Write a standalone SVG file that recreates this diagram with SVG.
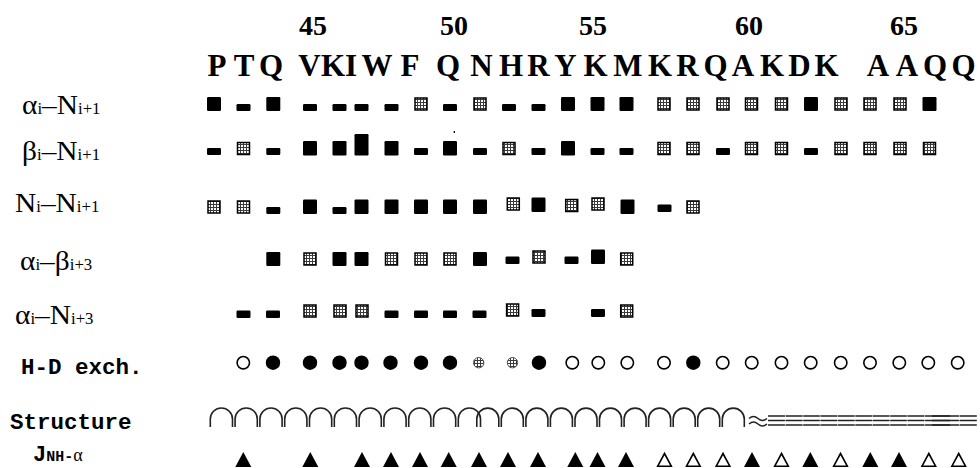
<svg xmlns="http://www.w3.org/2000/svg" width="980" height="468" viewBox="0 0 980 468">
<defs>
<pattern id="h" width="3" height="3" patternUnits="userSpaceOnUse"><rect width="3" height="3" fill="#fff"/><path d="M0 0.5H3M0.5 0V3" stroke="#3a3a3a" stroke-width="1"/></pattern>
<style>
.B{fill:#000}
.S{fill:url(#h);stroke:#000;stroke-width:1.5}
.lab{font-family:"Liberation Serif","Times New Roman",serif;fill:#000}
.mono{font-family:"Liberation Mono","Courier New",monospace;font-weight:bold;fill:#000}
.hd{font-family:"Liberation Serif","Times New Roman",serif;font-weight:bold;fill:#000;text-anchor:middle}
.oc{fill:#fff;stroke:#000;stroke-width:1.6}
.fc{fill:#000}
.sc{fill:url(#h);stroke:#555;stroke-width:1}
.arc{fill:none;stroke:#222;stroke-width:1.6}
.ln{fill:none;stroke:#222;stroke-width:1.5}
.ft{fill:#000}
.ot{fill:#fff;stroke:#000;stroke-width:1.6;stroke-linejoin:miter}
</style>
</defs>
<rect width="980" height="468" fill="#fff"/>

<g id="numbers" class="hd" font-size="28">
<text x="313" y="35">45</text><text x="454" y="35">50</text><text x="593" y="35">55</text><text x="749" y="35">60</text><text x="904" y="35">65</text>
</g>
<g id="sequence" class="hd" font-size="31">
<text x="217" y="76">P</text><text x="244" y="76">T</text><text x="271" y="76">Q</text><text x="309.5" y="76">V</text><text x="333" y="76">K</text><text x="351" y="76">I</text><text x="377" y="76">W</text><text x="410" y="76">F</text><text x="448" y="76">Q</text><text x="481.5" y="76">N</text><text x="511" y="76">H</text><text x="538.5" y="76">R</text><text x="565.5" y="76">Y</text><text x="595.5" y="76">K</text><text x="628" y="76">M</text><text x="660" y="76">K</text><text x="687.5" y="76">R</text><text x="715.5" y="76">Q</text><text x="743" y="76">A</text><text x="772" y="76">K</text><text x="799.5" y="76">D</text><text x="826.5" y="76">K</text><text x="878" y="76">A</text><text x="907" y="76">A</text><text x="935" y="76">Q</text><text x="963.5" y="76">Q</text>
</g>

<g id="labels">
<text class="lab" font-size="28" transform="translate(22,114) scale(1.05,1)">α<tspan font-size="16">i</tspan>–N<tspan font-size="16">i+1</tspan></text>
<text class="lab" font-size="28" transform="translate(22,160) scale(1.05,1)">β<tspan font-size="16">i</tspan>–N<tspan font-size="16">i+1</tspan></text>
<text class="lab" font-size="28" transform="translate(15,212) scale(1.05,1)">N<tspan font-size="16">i</tspan>–N<tspan font-size="16">i+1</tspan></text>
<text class="lab" font-size="28" transform="translate(20,270) scale(1.05,1)">α<tspan font-size="16">i</tspan>–β<tspan font-size="16">i+3</tspan></text>
<text class="lab" font-size="28" transform="translate(15,324) scale(1.05,1)">α<tspan font-size="16">i</tspan>–N<tspan font-size="16">i+3</tspan></text>
<text class="mono" font-size="22.5" x="21" y="374">H-D exch.</text>
<text class="mono" font-size="22.5" x="10" y="429">Structure</text>
<text class="mono" font-size="22" x="33" y="461">J<tspan font-size="15">NH-</tspan><tspan class="lab" font-weight="normal" font-size="18">α</tspan></text>
</g>

<g id="row-alpha-N-i1">
<rect class="B" x="207" y="97" width="14" height="14" rx="1.2"/>
<rect class="B" x="236.5" y="104" width="14" height="7" rx="1.2"/>
<rect class="B" x="266.3" y="97" width="14" height="14" rx="1.2"/>
<rect class="B" x="303" y="104" width="14" height="7" rx="1.2"/>
<rect class="B" x="332.5" y="104" width="14" height="7" rx="1.2"/>
<rect class="B" x="354.5" y="104" width="14" height="7" rx="1.2"/>
<rect class="B" x="384.5" y="104" width="14" height="7" rx="1.2"/>
<rect class="S" x="415" y="98" width="12" height="12"/>
<rect class="B" x="443" y="104" width="14" height="7" rx="1.2"/>
<rect class="S" x="474" y="98" width="12" height="12"/>
<rect class="B" x="502" y="104" width="14" height="7" rx="1.2"/>
<rect class="B" x="531.5" y="104" width="14" height="7" rx="1.2"/>
<rect class="B" x="561" y="97" width="14" height="14" rx="1.2"/>
<rect class="B" x="590.5" y="97" width="14" height="14" rx="1.2"/>
<rect class="B" x="619.5" y="97" width="14" height="14" rx="1.2"/>
<rect class="S" x="658" y="98" width="12" height="12"/>
<rect class="S" x="687" y="98" width="12" height="12"/>
<rect class="S" x="717" y="98" width="12" height="12"/>
<rect class="S" x="745.5" y="98" width="12" height="12"/>
<rect class="S" x="775.5" y="98" width="12" height="12"/>
<rect class="B" x="804" y="97" width="14" height="14" rx="1.2"/>
<rect class="S" x="835" y="98" width="12" height="12"/>
<rect class="S" x="864" y="98" width="12" height="12"/>
<rect class="S" x="894" y="98" width="12" height="12"/>
<rect class="B" x="922.5" y="97" width="14" height="14" rx="1.2"/>
</g>

<g id="row-beta-N-i1">
<rect class="B" x="207" y="148" width="14" height="7" rx="1.2"/>
<rect class="S" x="237.5" y="142.5" width="12" height="12"/>
<rect class="B" x="266.3" y="148" width="14" height="7" rx="1.2"/>
<rect class="B" x="303" y="141" width="14" height="14.5" rx="1.2"/>
<rect class="B" x="332.5" y="141" width="14" height="14.5" rx="1.2"/>
<rect class="B" x="354.5" y="134" width="14" height="21.5" rx="1.2"/>
<rect class="B" x="384.5" y="141" width="14" height="14.5" rx="1.2"/>
<rect class="B" x="414" y="148" width="14" height="7" rx="1.2"/>
<rect class="B" x="443" y="141" width="14" height="14.5" rx="1.2"/>
<rect class="B" x="473" y="148" width="14" height="7" rx="1.2"/>
<rect class="S" x="503" y="142.5" width="12" height="12"/>
<rect class="B" x="531.5" y="148" width="14" height="7" rx="1.2"/>
<rect class="B" x="561" y="141" width="14" height="14.5" rx="1.2"/>
<rect class="B" x="590.5" y="148" width="14" height="7" rx="1.2"/>
<rect class="B" x="619.5" y="148" width="14" height="7" rx="1.2"/>
<rect class="S" x="658" y="142.5" width="12" height="12"/>
<rect class="S" x="687" y="142.5" width="12" height="12"/>
<rect class="B" x="716" y="148" width="14" height="7" rx="1.2"/>
<rect class="S" x="745.5" y="142.5" width="12" height="12"/>
<rect class="S" x="775.5" y="142.5" width="12" height="12"/>
<rect class="B" x="804" y="148" width="14" height="7" rx="1.2"/>
<rect class="S" x="835" y="142.5" width="12" height="12"/>
<rect class="S" x="864" y="142.5" width="12" height="12"/>
<rect class="S" x="894" y="142.5" width="12" height="12"/>
<rect class="S" x="923.5" y="142.5" width="12" height="12"/>
<rect class="B" x="453.7" y="131" width="1.3" height="2"/>
</g>

<g id="row-N-N-i1">
<rect class="S" x="208" y="201" width="12" height="12"/>
<rect class="S" x="237.5" y="201" width="12" height="12"/>
<rect class="B" x="266.3" y="207" width="14" height="7" rx="1.2"/>
<rect class="B" x="303" y="199.5" width="14" height="14.5" rx="1.2"/>
<rect class="B" x="332.5" y="207" width="14" height="7" rx="1.2"/>
<rect class="B" x="354.5" y="199.5" width="14" height="14.5" rx="1.2"/>
<rect class="B" x="384.5" y="199.5" width="14" height="14.5" rx="1.2"/>
<rect class="B" x="414" y="199.5" width="14" height="14.5" rx="1.2"/>
<rect class="B" x="443" y="199.5" width="14" height="14.5" rx="1.2"/>
<rect class="B" x="473" y="199.5" width="14" height="14.5" rx="1.2"/>
<rect class="S" x="507.3" y="198" width="12" height="12"/>
<rect class="B" x="531.5" y="197.5" width="14" height="14.5" rx="1.2"/>
<rect class="S" x="565.7" y="199.5" width="12" height="12"/>
<rect class="S" x="592" y="198" width="12" height="12"/>
<rect class="B" x="620.5" y="199.5" width="14" height="14.5" rx="1.2"/>
<rect class="B" x="657.5" y="204.5" width="14" height="7.5" rx="1.2"/>
<rect class="S" x="687" y="201" width="12" height="12"/>
</g>

<g id="row-alpha-beta-i3">
<rect class="B" x="266.3" y="252" width="14" height="14" rx="1.2"/>
<rect class="S" x="304" y="253" width="12" height="12"/>
<rect class="B" x="332.5" y="252" width="14" height="14" rx="1.2"/>
<rect class="B" x="354.5" y="252" width="14" height="14" rx="1.2"/>
<rect class="S" x="385.5" y="253" width="12" height="12"/>
<rect class="S" x="415" y="253" width="12" height="12"/>
<rect class="S" x="444" y="253" width="12" height="12"/>
<rect class="B" x="473" y="252" width="14" height="14" rx="1.2"/>
<rect class="B" x="505.5" y="256.5" width="14" height="7.5" rx="1.2"/>
<rect class="S" x="533" y="251" width="12" height="12"/>
<rect class="B" x="564.5" y="256.5" width="14" height="7.5" rx="1.2"/>
<rect class="B" x="591" y="249.5" width="14" height="14.5" rx="1.2"/>
<rect class="S" x="620.7" y="253" width="12" height="12"/>
</g>

<g id="row-alpha-N-i3">
<rect class="B" x="236.5" y="310.5" width="14" height="7.5" rx="1.2"/>
<rect class="B" x="266" y="310.5" width="14" height="7.5" rx="1.2"/>
<rect class="S" x="304" y="305" width="12" height="12"/>
<rect class="S" x="334" y="305" width="12" height="12"/>
<rect class="S" x="356" y="305" width="12" height="12"/>
<rect class="B" x="384.5" y="310.5" width="14" height="7.5" rx="1.2"/>
<rect class="B" x="414" y="310.5" width="14" height="7.5" rx="1.2"/>
<rect class="B" x="443" y="310.5" width="14" height="7.5" rx="1.2"/>
<rect class="B" x="472.5" y="310.5" width="14" height="7.5" rx="1.2"/>
<rect class="S" x="506.6" y="304" width="12" height="12"/>
<rect class="B" x="531.5" y="309" width="14" height="8" rx="1.2"/>
<rect class="B" x="591" y="309" width="14" height="8" rx="1.2"/>
<rect class="S" x="620.7" y="305" width="12" height="12"/>
</g>

<g id="row-hd-exchange">
<circle class="oc" cx="243.3" cy="362.7" r="6.2"/>
<circle class="fc" cx="273" cy="362.7" r="7.2"/>
<circle class="fc" cx="310" cy="362.7" r="7.2"/>
<circle class="fc" cx="339.5" cy="362.7" r="7.2"/>
<circle class="fc" cx="361.5" cy="362.7" r="7.2"/>
<circle class="fc" cx="390.5" cy="362.7" r="7.2"/>
<circle class="fc" cx="421" cy="362.7" r="7.2"/>
<circle class="fc" cx="450" cy="362.7" r="7.2"/>
<circle class="sc" cx="478.7" cy="362.7" r="5.2"/>
<circle class="sc" cx="512.5" cy="362.7" r="5.2"/>
<circle class="fc" cx="539" cy="362.7" r="7.2"/>
<circle class="oc" cx="572.3" cy="362.7" r="6.2"/>
<circle class="oc" cx="598.3" cy="362.7" r="6.2"/>
<circle class="oc" cx="627.3" cy="362.7" r="6.2"/>
<circle class="oc" cx="664" cy="362.7" r="6.2"/>
<circle class="fc" cx="693.3" cy="362.7" r="7.2"/>
<circle class="oc" cx="722.7" cy="362.7" r="6.2"/>
<circle class="oc" cx="751.7" cy="362.7" r="6.2"/>
<circle class="oc" cx="781.5" cy="362.7" r="6.2"/>
<circle class="oc" cx="810.7" cy="362.7" r="6.2"/>
<circle class="oc" cx="840.7" cy="362.7" r="6.2"/>
<circle class="oc" cx="870" cy="362.7" r="6.2"/>
<circle class="oc" cx="899.3" cy="362.7" r="6.2"/>
<circle class="oc" cx="928.3" cy="362.7" r="6.2"/>
<circle class="oc" cx="957.7" cy="362.7" r="6.2"/>
</g>

<g id="row-structure">
<path class="arc" d="M210.3 427V419.1A11.1 11.1 0 0 1 232.5 419.1V427"/>
<path class="arc" d="M235.1 427V419.1A11.1 11.1 0 0 1 257.3 419.1V427"/>
<path class="arc" d="M259.9 427V419.1A11.1 11.1 0 0 1 282.1 419.1V427"/>
<path class="arc" d="M284.7 427V419.1A11.1 11.1 0 0 1 306.9 419.1V427"/>
<path class="arc" d="M309.5 427V419.1A11.1 11.1 0 0 1 331.7 419.1V427"/>
<path class="arc" stroke-width="2.4" d="M334.3 427V419.1A11.1 11.1 0 0 1 356.5 419.1V427"/>
<path class="arc" d="M359.1 427V419.1A11.1 11.1 0 0 1 381.3 419.1V427"/>
<path class="arc" d="M383.9 427V419.1A11.1 11.1 0 0 1 406.1 419.1V427"/>
<path class="arc" d="M408.7 427V419.1A11.1 11.1 0 0 1 430.9 419.1V427"/>
<path class="arc" d="M433.5 427V419.1A11.1 11.1 0 0 1 455.7 419.1V427"/>
<path class="arc" d="M458.3 427V419.1A11.1 11.1 0 0 1 480.5 419.1V427"/>
<path class="arc" d="M476.8 427V419.1A11 11 0 0 1 498.8 419.1V427"/>
<path class="arc" d="M501.3 427V419.1A11 11 0 0 1 523.3 419.1V427"/>
<path class="arc" d="M525.9 427V419.1A11 11 0 0 1 547.9 419.1V427"/>
<path class="arc" d="M550.4 427V419.1A11 11 0 0 1 572.4 419.1V427"/>
<path class="arc" d="M575 427V419.1A11 11 0 0 1 597 419.1V427"/>
<path class="arc" d="M599.5 427V419.1A11 11 0 0 1 621.5 419.1V427"/>
<path class="arc" d="M624.1 427V419.1A11 11 0 0 1 646.1 419.1V427"/>
<path class="arc" d="M648.6 427V419.1A11 11 0 0 1 670.6 419.1V427"/>
<path class="arc" d="M673.2 427V419.1A11 11 0 0 1 695.2 419.1V427"/>
<path class="arc" d="M697.7 427V419.1A11 11 0 0 1 719.7 419.1V427"/>
<path class="arc" d="M722.3 427V419.1A11 11 0 0 1 744.3 419.1V427"/>
<path class="ln" stroke-width="1.4" d="M749 418.5q4.5 -4 9 0t9 0M749 424q4.5 -4 9 0t9 0"/>
<path class="ln" d="M768 416H976.8M768 420.5H976.8M768 425H976.8"/>
<path class="ln" stroke-width="2.2" d="M932 416H950M932 420.5H950M932 425H950"/>
<path stroke="#fff" stroke-width="0.6" d="M785.4 414V427M802.8 414V427M820.2 414V427M837.6 414V427M855 414V427M872.4 414V427M889.8 414V427M907.2 414V427M924.6 414V427M959.4 414V427"/>
</g>

<g id="row-J">
<path class="ft" d="M243.3 452L251.3 467H235.3Z"/>
<path class="ft" d="M310.3 452L318.3 467H302.3Z"/>
<path class="ft" d="M362 452L370 467H354Z"/>
<path class="ft" d="M391 452L399 467H383Z"/>
<path class="ft" d="M420 452L428 467H412Z"/>
<path class="ft" d="M448.7 452L456.7 467H440.7Z"/>
<path class="ft" d="M479 452L487 467H471Z"/>
<path class="ft" d="M508 452L516 467H500Z"/>
<path class="ft" d="M538 452L546 467H530Z"/>
<path class="ft" d="M575.3 452L583.3 467H567.3Z"/>
<path class="ft" d="M597.5 452L605.5 467H589.5Z"/>
<path class="ft" d="M626 452L634 467H618Z"/>
<path class="ot" d="M664.5 453.5L671.3 466.2H657.7Z"/>
<path class="ot" d="M693.3 453.5L700.1 466.2H686.5Z"/>
<path class="ot" d="M723 453.5L729.8 466.2H716.2Z"/>
<path class="ft" d="M752 452L760 467H744Z"/>
<path class="ot" d="M781.5 453.5L788.3 466.2H774.7Z"/>
<path class="ft" d="M810.3 452L818.3 467H802.3Z"/>
<path class="ot" d="M840.5 453.5L847.3 466.2H833.7Z"/>
<path class="ft" d="M870.3 452L878.3 467H862.3Z"/>
<path class="ft" d="M899 452L907 467H891Z"/>
<path class="ot" d="M928.8 453.5L935.6 466.2H922Z"/>
<path class="ot" d="M958.7 453.5L965.5 466.2H951.9Z"/>
</g>
</svg>
